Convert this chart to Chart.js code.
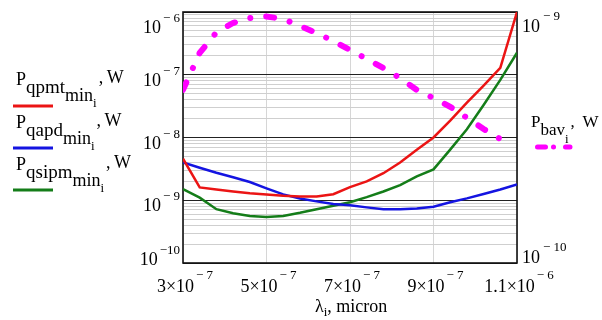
<!DOCTYPE html>
<html lang="en">
<head>
<meta charset="UTF-8">
<title>Minimal detectable power vs wavelength</title>
<style>
  html, body { margin: 0; padding: 0; background: #fff; }
  #wrap { width: 602px; height: 320px; }
</style>
</head>
<body>
<div id="wrap"><canvas id="myChart" width="602" height="320"></canvas></div>

<script src="https://cdn.jsdelivr.net/npm/chart.js"></script>
<script>
// wavelength (x), metres
const lambda = [3.0e-7, 3.4e-7, 3.8e-7, 4.2e-7, 4.6e-7, 5.0e-7, 5.4e-7, 5.8e-7, 6.2e-7, 6.6e-7, 7.0e-7,
  7.4e-7, 7.8e-7, 8.2e-7, 8.6e-7, 9.0e-7, 9.4e-7, 9.8e-7, 1.02e-6, 1.06e-6, 1.1e-6];
// left axis, W
const pqPmt = [4.6e-9, 1.6e-9, 1.48e-9, 1.38e-9, 1.29e-9, 1.23e-9, 1.18e-9, 1.15e-9, 1.15e-9, 1.25e-9, 1.62e-9,
  2.0e-9, 2.7e-9, 4.0e-9, 6.4e-9, 1.0e-8, 1.86e-8, 3.6e-8, 6.7e-8, 1.29e-7, 1.0e-6];
const pqApd = [4.0e-9, 3.3e-9, 2.75e-9, 2.33e-9, 1.95e-9, 1.55e-9, 1.24e-9, 1.07e-9, 9.6e-10, 8.7e-10, 8.3e-10,
  7.7e-10, 7.2e-10, 7.2e-10, 7.4e-10, 7.9e-10, 9.3e-10, 1.07e-9, 1.26e-9, 1.48e-9, 1.78e-9];
const pqSipm = [1.5e-9, 1.1e-9, 7.2e-10, 6.2e-10, 5.6e-10, 5.4e-10, 5.6e-10, 6.3e-10, 7.2e-10, 8.2e-10, 9.3e-10,
  1.12e-9, 1.38e-9, 1.74e-9, 2.4e-9, 3.1e-9, 6.4e-9, 1.35e-8, 3.3e-8, 8.3e-8, 2.24e-7];
// right axis, W
const lambdaBav = [3.0e-7, 3.4e-7, 3.8e-7, 4.2e-7, 4.6e-7, 5.0e-7, 5.4e-7, 5.8e-7, 6.2e-7, 6.6e-7, 7.0e-7,
  7.4e-7, 7.8e-7, 8.2e-7, 8.6e-7, 9.0e-7, 9.4e-7, 9.8e-7, 1.02e-6, 1.06e-6, 1.08e-6];
const pbAv = [4.9e-10, 6.87e-10, 8.3e-10, 9.04e-10, 9.46e-10, 9.6e-10, 9.38e-10, 8.8e-10, 8.25e-10, 7.66e-10, 7.06e-10,
  6.5e-10, 5.98e-10, 5.46e-10, 4.89e-10, 4.54e-10, 4.19e-10, 3.79e-10, 3.42e-10, 3.12e-10, 2.95e-10];

// tick labels (mantissa, exponent)
const xTicks = [3e-7, 5e-7, 7e-7, 9e-7, 1.1e-6];
const xTickLabels = [['3×10', '− 7'], ['5×10', '− 7'], ['7×10', '− 7'], ['9×10', '− 7'], ['1.1×10', '− 6']];
const yTicks = [1e-6, 1e-7, 1e-8, 1e-9, 1e-10];
const yTickLabels = [['10', '− 6'], ['10', '− 7'], ['10', '− 8'], ['10', '− 9'], ['10', '−10']];
const y2Ticks = [1e-9, 1e-10];
const y2TickLabels = [['10', '− 9'], ['10', '− 10']];

// legend names: P_{q_{name}_{min_i}}
const seriesNames = ['qpmt', 'qapd', 'qsipm'];
const seriesColors = ['rgb(235,20,20)', 'rgb(20,20,225)', 'rgb(20,125,25)'];
const bavColor = 'rgb(255,0,255)';

const FONT = '"Liberation Serif", "Times New Roman", serif';
const pts = (xs, ys) => xs.map((x, i) => ({ x: x, y: ys[i] }));
const isDecade = v => Math.abs(Math.log10(v) - Math.round(Math.log10(v))) < 1e-6;

function drawParts(ctx, x, y, parts) {
  for (const [t, size, dy] of parts) {
    ctx.font = size + 'px ' + FONT;
    ctx.fillText(t, x, y + dy);
    x += ctx.measureText(t).width;
  }
  return x;
}

const framePlugin = {
  id: 'frame',
  beforeDatasetsDraw(chart) {
    const ctx = chart.ctx, a = chart.chartArea;
    ctx.save();
    ctx.strokeStyle = '#111';
    ctx.lineWidth = 1.6;
    ctx.strokeRect(a.left, a.top, a.right - a.left, a.bottom - a.top);
    ctx.restore();
  }
};

const textPlugin = {
  id: 'mathText',
  afterDraw(chart) {
    const ctx = chart.ctx, a = chart.chartArea;
    const xs = chart.scales.x, ys = chart.scales.y, ys2 = chart.scales.y2;
    ctx.save();
    ctx.fillStyle = '#000';
    ctx.textBaseline = 'alphabetic';

    // left axis labels
    yTicks.forEach((v, i) => {
      const py = ys.getPixelForValue(v);
      const base = Math.min(Math.max(py + 11, a.top + 21), a.bottom + 2);
      ctx.textAlign = 'right';
      ctx.font = '13px ' + FONT;
      ctx.fillText(yTickLabels[i][1], a.left - 3, base - 11);
      const w = ctx.measureText(yTickLabels[i][1]).width;
      ctx.font = '18px ' + FONT;
      ctx.fillText(yTickLabels[i][0], a.left - 5 - w, base);
    });

    // right axis labels
    ctx.textAlign = 'left';
    y2Ticks.forEach((v, i) => {
      const py = ys2.getPixelForValue(v);
      const base = Math.min(Math.max(py + 11, a.top + 20), a.bottom);
      ctx.font = '18px ' + FONT;
      ctx.fillText(y2TickLabels[i][0], a.right + 5, base);
      const w = ctx.measureText(y2TickLabels[i][0]).width;
      ctx.font = '13px ' + FONT;
      ctx.fillText(y2TickLabels[i][1], a.right + 8 + w, base - 12);
    });

    // x axis labels
    xTicks.forEach((v, i) => {
      const px = xs.getPixelForValue(v);
      ctx.font = '18px ' + FONT;
      const w1 = ctx.measureText(xTickLabels[i][0]).width;
      ctx.font = '13px ' + FONT;
      const w2 = ctx.measureText(xTickLabels[i][1]).width;
      const x0 = px + 2 - (w1 + w2 + 2) / 2;
      ctx.font = '18px ' + FONT;
      ctx.fillText(xTickLabels[i][0], x0, a.bottom + 29);
      ctx.font = '13px ' + FONT;
      ctx.fillText(xTickLabels[i][1], x0 + w1 + 2, a.bottom + 16);
    });

    // x axis title
    drawParts(ctx, (a.left + a.right) / 2 - 35, a.bottom + 49, [['λ', 18, 0], ['i', 13, 4], [', micron', 18, 0]]);

    // left legend
    const legY = [85, 128, 170];
    const lineY = [106, 148, 190];
    seriesNames.forEach((n, i) => {
      let x = drawParts(ctx, 16, legY[i], [['P', 18, 0], [n, 19, 8], ['min', 18, 16], ['i', 13, 22]]);
      drawParts(ctx, x + 2, legY[i], [[',', 18, -2]]);
      drawParts(ctx, x + 10, legY[i], [['W', 18, -2]]);
      ctx.strokeStyle = seriesColors[i];
      ctx.lineWidth = 3;
      ctx.beginPath();
      ctx.moveTo(13, lineY[i]);
      ctx.lineTo(53, lineY[i]);
      ctx.stroke();
    });

    // right legend
    let x = drawParts(ctx, 531, 127, [['P', 17, 0], ['bav', 17, 8], ['i', 13, 16]]);
    drawParts(ctx, x + 2, 127, [[',', 17, 0]]);
    drawParts(ctx, x + 14, 127, [['W', 17, 0]]);
    ctx.strokeStyle = bavColor;
    ctx.lineWidth = 5;
    ctx.lineCap = 'round';
    ctx.setLineDash([8, 8, 0.01, 12]);
    ctx.beginPath();
    ctx.moveTo(537.5, 147);
    ctx.lineTo(570, 147);
    ctx.stroke();
    ctx.restore();
  }
};

const ctx = document.getElementById('myChart');
new Chart(ctx, {
  type: 'line',
  data: {
    datasets: [
      { data: pts(lambda, pqPmt), borderColor: seriesColors[0], borderWidth: 2.5, yAxisID: 'y' },
      { data: pts(lambda, pqApd), borderColor: seriesColors[1], borderWidth: 2.5, yAxisID: 'y' },
      { data: pts(lambda, pqSipm), borderColor: seriesColors[2], borderWidth: 2.5, yAxisID: 'y' },
      {
        data: pts(lambdaBav, pbAv), borderColor: bavColor, borderWidth: 6, yAxisID: 'y2',
        borderDash: [8, 16, 0.01, 16], borderCapStyle: 'round'
      }
    ]
  },
  options: {
    responsive: false,
    animation: false,
    devicePixelRatio: 1,
    layout: { padding: { left: 183, right: 85, top: 12, bottom: 57 } },
    elements: { point: { radius: 0 }, line: { tension: 0, fill: false } },
    plugins: { legend: { display: false }, tooltip: { enabled: false } },
    scales: {
      x: {
        type: 'linear', min: 3e-7, max: 1.1e-6,
        afterBuildTicks: s => { s.ticks = xTicks.map(v => ({ value: v })); },
        afterFit: s => { s.height = 0; },
        ticks: { display: false },
        border: { display: false },
        grid: { color: '#d6d6d6', lineWidth: 1, drawTicks: false }
      },
      y: {
        type: 'logarithmic', position: 'left', min: 1e-10, max: 1e-6,
        afterBuildTicks: s => {
          const t = [];
          for (let e = -10; e < -6; e++) {
            for (let m = 1; m <= 9; m++) t.push({ value: m * Math.pow(10, e) });
          }
          t.push({ value: 1e-6 });
          s.ticks = t;
        },
        afterFit: s => { s.width = 0; },
        ticks: { display: false },
        border: { display: false },
        grid: {
          drawTicks: false,
          lineWidth: 1,
          color: c => (c.tick && isDecade(c.tick.value)) ? '#222' : '#cfcfcf'
        }
      },
      y2: {
        type: 'logarithmic', position: 'right', min: 1e-10, max: 1e-9,
        afterFit: s => { s.width = 0; },
        ticks: { display: false },
        border: { display: false },
        grid: { display: false, drawTicks: false }
      }
    }
  },
  plugins: [framePlugin, textPlugin]
});
</script>
</body>
</html>
